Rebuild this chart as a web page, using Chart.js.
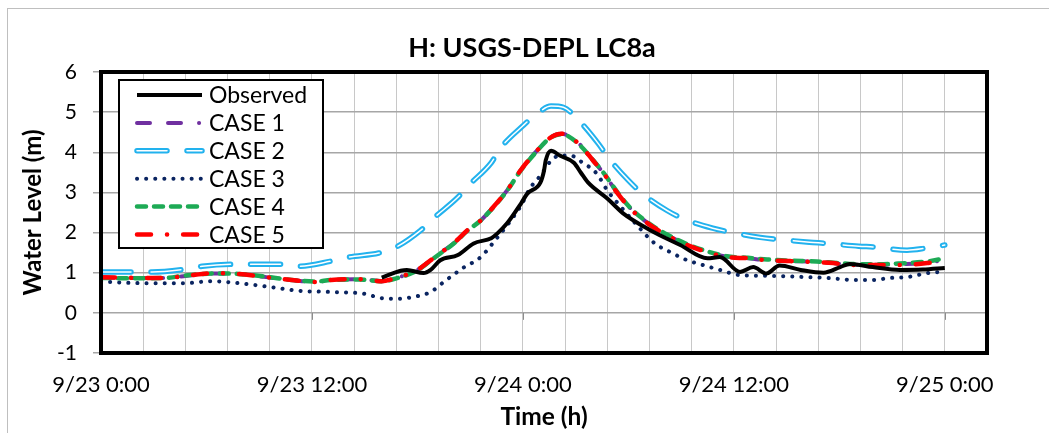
<!DOCTYPE html>
<html>
<head>
<meta charset="utf-8">
<script src="https://cdn.jsdelivr.net/npm/chart.js@4.4.1/dist/chart.umd.min.js"></script>
<style>
  body { margin: 0; background: #fff; }
  canvas { display: block; }
</style>
</head>
<body>
<canvas id="waterChart" width="1049" height="433"></canvas>
<script>
// values, time in hours from 9/23 0:00
var obsT = [15.97, 17.05, 17.4, 18.35, 18.75, 19.3, 20.3, 21.2, 22.2, 22.55, 23.1, 23.9, 24.25, 25.0, 25.2, 25.3, 25.6, 26.1, 26.9, 27.3, 27.7, 28.8, 29.7, 31.25, 32.95, 34.5, 35.2, 36.35, 37.1, 37.85, 38.6, 39.8, 41.1, 42.05, 42.6, 43.9, 45.45, 46.75, 48.0];
var obsV = [0.88, 1.05, 1.07, 0.99, 1.07, 1.31, 1.44, 1.73, 1.86, 1.98, 2.23, 2.73, 2.97, 3.25, 3.54, 3.80, 4.04, 3.92, 3.74, 3.49, 3.25, 2.85, 2.48, 2.06, 1.69, 1.36, 1.39, 1.02, 1.14, 0.98, 1.18, 1.07, 1.00, 1.14, 1.22, 1.14, 1.07, 1.08, 1.12];

// cases 1, 4, 5 share the same time steps
var caseT = [0, 2.2, 3.7, 4.8, 6.5, 7.8, 9.4, 10.85, 12.2, 13.1, 14.65, 15.95, 16.8, 18.0, 18.6, 19.3, 20.05, 20.85, 21.6, 22.3, 23.1, 23.85, 24.8, 25.55, 26.2, 26.5, 27.3, 28.0, 28.6, 29.4, 30.1, 31.1, 32.2, 33.35, 34.5, 35.6, 36.8, 37.9, 39.2, 40.7, 41.65, 42.6, 44.3, 45.45, 47.0, 48.0];
var case1 = [0.88, 0.87, 0.87, 0.92, 0.98, 0.97, 0.89, 0.82, 0.77, 0.82, 0.84, 0.79, 0.87, 1.07, 1.26, 1.49, 1.73, 2.06, 2.30, 2.63, 3.05, 3.54, 4.04, 4.37, 4.46, 4.43, 4.17, 3.80, 3.47, 2.98, 2.61, 2.24, 1.94, 1.70, 1.52, 1.40, 1.36, 1.31, 1.29, 1.27, 1.24, 1.20, 1.20, 1.21, 1.25, 1.32];
var case4 = [0.87, 0.86, 0.87, 0.93, 0.98, 0.97, 0.90, 0.82, 0.78, 0.82, 0.83, 0.79, 0.86, 1.06, 1.25, 1.48, 1.72, 2.05, 2.30, 2.62, 3.04, 3.53, 4.03, 4.36, 4.45, 4.42, 4.15, 3.80, 3.48, 2.99, 2.62, 2.25, 1.95, 1.71, 1.53, 1.41, 1.37, 1.33, 1.30, 1.28, 1.25, 1.22, 1.21, 1.23, 1.28, 1.36];
var case5 = [0.89, 0.87, 0.87, 0.92, 0.99, 0.97, 0.89, 0.82, 0.77, 0.82, 0.84, 0.79, 0.87, 1.07, 1.26, 1.49, 1.73, 2.06, 2.30, 2.63, 3.05, 3.54, 4.04, 4.36, 4.46, 4.43, 4.16, 3.79, 3.47, 2.97, 2.60, 2.23, 1.93, 1.69, 1.51, 1.39, 1.36, 1.31, 1.29, 1.26, 1.24, 1.19, 1.19, 1.19, 1.24, 1.31];

var case2T = [0, 2.0, 2.9, 4.8, 5.75, 7.7, 10.4, 11.25, 13.1, 14.1, 15.8, 16.8, 18.2, 18.9, 20.3, 20.9, 22.2, 22.7, 24.0, 24.8, 25.6, 26.3, 27.1, 28.3, 28.85, 30.0, 30.8, 32.2, 33.1, 34.8, 35.8, 37.5, 38.5, 40.3, 41.3, 43.1, 44.0, 45.85, 46.9, 48.0];
var case2 = [1.02, 1.02, 1.02, 1.09, 1.16, 1.21, 1.21, 1.16, 1.29, 1.39, 1.49, 1.64, 2.06, 2.35, 2.88, 3.17, 3.74, 4.09, 4.66, 4.96, 5.15, 5.12, 4.83, 4.21, 3.87, 3.30, 2.97, 2.55, 2.35, 2.11, 2.01, 1.88, 1.83, 1.76, 1.73, 1.66, 1.64, 1.56, 1.61, 1.69];

var case3T = [0, 2.3, 4.8, 6.3, 7.8, 9.7, 11.25, 13.1, 15.05, 15.9, 16.9, 17.8, 18.75, 19.5, 20.6, 21.6, 22.55, 23.1, 23.9, 24.4, 25.0, 25.6, 26.1, 26.7, 27.4, 28.2, 28.8, 29.5, 30.5, 31.5, 32.4, 33.35, 34.25, 35.2, 36.35, 38.25, 40.2, 41.3, 42.8, 43.9, 44.9, 45.85, 47.0, 47.85];
var case3 = [0.78, 0.74, 0.74, 0.79, 0.74, 0.64, 0.55, 0.52, 0.47, 0.37, 0.35, 0.40, 0.52, 0.77, 1.12, 1.39, 1.88, 2.18, 2.68, 3.10, 3.42, 3.79, 3.92, 3.92, 3.74, 3.47, 3.05, 2.68, 2.18, 1.73, 1.51, 1.31, 1.19, 1.07, 0.94, 0.92, 0.89, 0.87, 0.82, 0.82, 0.87, 0.89, 0.99, 1.02];

var xLabels = ['9/23 0:00', '9/23 12:00', '9/24 0:00', '9/24 12:00', '9/25 0:00'];

var FONT = 'Lato, "Open Sans", sans-serif';

function pts(t, v) {
  return t.map(function (x, i) { return { x: x, y: v[i] }; });
}

// order: lower draws on top
var datasets = [
  { label: 'Observed', data: pts(obsT, obsV), borderColor: '#000000', borderWidth: 4, order: 0 },
  { label: 'CASE 1', data: pts(caseT, case1), borderColor: '#7030A0', borderWidth: 4, borderDash: [13, 18, 13, 18, 0.1, 18], borderCapStyle: 'round', order: 3 },
  { label: 'CASE 2', data: pts(case2T, case2), borderColor: '#22B2EE', borderWidth: 5.5, borderDash: [30, 20], borderCapStyle: 'round', order: 5 },
  { label: 'CASE 3', data: pts(case3T, case3), borderColor: '#0A2460', borderWidth: 4, borderDash: [0.1, 9], borderCapStyle: 'round', order: 6 },
  { label: 'CASE 4', data: pts(caseT, case4), borderColor: '#1DAA55', borderWidth: 4.5, borderDash: [9, 8], borderCapStyle: 'round', order: 2 },
  { label: 'CASE 5', data: pts(caseT, case5), borderColor: '#FF0000', borderWidth: 4.5, borderDash: [14, 16, 0.1, 16], borderCapStyle: 'round', order: 1 },
  // white centre for the double CASE 2 line
  { label: 'CASE 2 centre', overlay: true, data: pts(case2T, case2), borderColor: '#FFFFFF', borderWidth: 1.5, borderDash: [30, 20], borderCapStyle: 'round', order: 4 }
];

var framePlugin = {
  id: 'frame',
  afterLayout: function (chart) {
    // centre the title a bit left of the plot, like the original
    chart.titleBlock.left = 77;
    chart.titleBlock.right = 987;
  },
  beforeDraw: function (chart) {
    var c = chart.ctx;
    c.save();
    c.fillStyle = '#fff';
    c.fillRect(0, 0, chart.width, chart.height);
    c.strokeStyle = '#BFBFBF';
    c.lineWidth = 1;
    c.strokeRect(7.5, 8.5, chart.width + 20, chart.height + 20);
    c.restore();
  },
  afterDraw: function (chart) {
    var c = chart.ctx;
    var a = chart.chartArea;
    var xs = chart.scales.x, ys = chart.scales.y;
    c.save();
    // small major tick marks on the zero line
    c.strokeStyle = '#8C8C8C';
    c.lineWidth = 1;
    var y0 = ys.getPixelForValue(0);
    for (var i = 0; i < xLabels.length; i++) {
      var px = Math.round(xs.getPixelForValue(i * 12)) + 0.5;
      c.beginPath();
      c.moveTo(px, y0);
      c.lineTo(px, y0 + 7);
      c.stroke();
    }
    // plot border
    c.strokeStyle = '#000';
    c.lineWidth = 4;
    c.strokeRect(a.left, a.top, a.right - a.left, a.bottom - a.top);

    // legend box
    var bx = 119, by = 80, bw = 204, bh = 168;
    c.fillStyle = '#fff';
    c.fillRect(bx, by, bw, bh);
    c.lineWidth = 2;
    c.strokeStyle = '#000';
    c.strokeRect(bx, by, bw, bh);
    var rows = chart.data.datasets.filter(function (d) { return !d.overlay; });
    c.font = '23px ' + FONT;
    c.textBaseline = 'middle';
    c.textAlign = 'left';
    rows.forEach(function (d, k) {
      var ry = 95 + k * 27.9;
      var drawSample = function (col, w) {
        c.beginPath();
        c.setLineDash(d.borderDash || []);
        c.lineCap = d.borderCapStyle || 'butt';
        c.strokeStyle = col;
        c.lineWidth = w;
        c.moveTo(137, ry);
        c.lineTo(202, ry);
        c.stroke();
      };
      drawSample(d.borderColor, d.borderWidth);
      if (d.label === 'CASE 2') drawSample('#fff', 1.5);
      c.setLineDash([]);
      c.fillStyle = '#000';
      c.fillText(d.label, 209, ry + 1);
    });
    c.restore();
  }
};

var chart = new Chart(document.getElementById('waterChart'), {
  type: 'line',
  data: { datasets: datasets },
  options: {
    responsive: false,
    animation: false,
    layout: { padding: { left: 0, right: 62, top: 0, bottom: 0 } },
    elements: {
      point: { radius: 0 },
      line: { tension: 0.4, cubicInterpolationMode: 'monotone', borderJoinStyle: 'round', fill: false }
    },
    plugins: {
      legend: { display: false },
      tooltip: { enabled: false },
      title: {
        display: true,
        text: 'H: USGS-DEPL LC8a',
        color: '#000',
        font: { family: FONT, size: 27, weight: 'bold' },
        padding: { top: 32, bottom: 7.6 }
      }
    },
    scales: {
      x: {
        type: 'linear',
        min: 0,
        max: 50.4,
        afterFit: function (s) { s.height = 80; },
        grid: { color: '#C8C8C8', lineWidth: 1, drawTicks: false },
        border: { display: false },
        ticks: {
          stepSize: 2.4,
          autoSkip: false,
          maxRotation: 0,
          padding: 19,
          color: '#000',
          font: { family: FONT, size: 22 },
          callback: function (v) {
            var h = Math.round(v * 10) / 10;
            if (h % 12 === 0 && h / 12 < xLabels.length) return xLabels[h / 12];
            return '';
          }
        },
        title: {
          display: true,
          text: 'Time (h)',
          color: '#000',
          font: { family: FONT, size: 24.5, weight: 'bold' },
          padding: { top: 0, bottom: 1 }
        }
      },
      y: {
        min: -1,
        max: 6,
        afterFit: function (s) { s.width = 101; },
        grid: { color: '#A6A6A6', lineWidth: 1.5, tickLength: 8 },
        border: { display: false },
        ticks: {
          stepSize: 1,
          padding: 16,
          color: '#000',
          font: { family: FONT, size: 21 }
        },
        title: {
          display: true,
          text: 'Water Level (m)',
          color: '#000',
          font: { family: FONT, size: 24, weight: 'bold' },
          padding: { top: 19, bottom: 0 }
        }
      }
    }
  },
  plugins: [framePlugin]
});
</script>
</body>
</html>
